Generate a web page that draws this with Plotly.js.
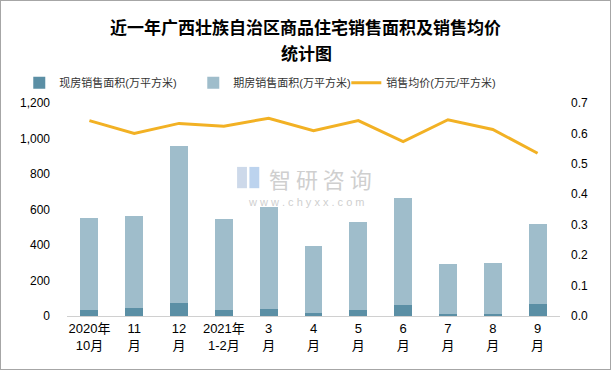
<!DOCTYPE html>
<html><head><meta charset="utf-8">
<script src="https://cdn.plot.ly/plotly-3.0.1.min.js"></script>
<style>
html,body{margin:0;padding:0;background:#fff;}
#wrap{width:611px;height:370px;box-sizing:border-box;border:1px solid #a6a6a6;}
#chart{width:609px;height:368px;}
</style></head>
<body><div id="wrap"><div id="chart"></div></div>
<script>
const categories = ["2020年<br>10月","11<br>月","12<br>月","2021年<br>1-2月","3<br>月","4<br>月","5<br>月","6<br>月","7<br>月","8<br>月","9<br>月"];
const spotArea = [34, 45, 75, 34, 39, 19, 34, 62, 11, 11, 67];
const totalArea = [551, 562, 956, 546, 613, 394, 529, 664, 292, 298, 517];
const futuresArea = totalArea.map((t, i) => t - spotArea[i]);
const avgPrice = [0.642, 0.600, 0.633, 0.624, 0.650, 0.609, 0.642, 0.573, 0.645, 0.613, 0.535];

const font = 'Arial, "Noto Sans CJK SC", sans-serif';
const traces = [
  {type:'bar', name:'现房销售面积(万平方米)', x:categories, y:spotArea, marker:{color:'#5b8fa5'}, yaxis:'y', legend:'legend'},
  {type:'bar', name:'期房销售面积(万平方米)', x:categories, y:futuresArea, marker:{color:'#9fbdcb'}, yaxis:'y', legend:'legend'},
  {type:'scatter', mode:'lines', name:'销售均价(万元/平方米)', x:categories, y:avgPrice, line:{color:'#f2b124', width:3}, yaxis:'y2', legend:'legend2'}
];
const wm = '#cfcfcf';
const titleFont = {family:'"Noto Sans CJK SC", sans-serif', size:17, color:'#000'};
const legCommon = {orientation:'h', xref:'container', yref:'container', xanchor:'left', y:0.778, yanchor:'middle', font:{size:11, color:'#333'}, itemwidth:30, traceorder:'normal', bgcolor:'rgba(0,0,0,0)'};
const layout = {
  width:609, height:368,
  margin:{l:66, r:50, t:102, b:53},
  paper_bgcolor:'#fff', plot_bgcolor:'#fff',
  barmode:'stack', bargap:0.6,
  font:{family:font, size:12, color:'#000'},
  title:{text:'<b>近一年广西壮族自治区商品住宅销售面积及销售均价</b>', x:0.5, xanchor:'center', yref:'container', y:0.927, yanchor:'middle', font:titleFont},
  showlegend:true,
  legend:Object.assign({}, legCommon, {x:0.03, entrywidth:129, entrywidthmode:'pixels'}),
  legend2:Object.assign({}, legCommon, {x:0.567}),
  xaxis:{type:'category', showline:true, linecolor:'#d0d0d0', linewidth:1, ticks:'', tickfont:{size:13}, showgrid:false, zeroline:false},
  yaxis:{range:[0,1200], dtick:200, tickformat:',d', showgrid:false, zeroline:false, showline:false, ticks:'', tickfont:{size:12}, ticklabelstandoff:16},
  yaxis2:{overlaying:'y', side:'right', range:[0,0.7], dtick:0.1, tickformat:'.1f', showgrid:false, zeroline:false, showline:false, ticks:'', tickfont:{size:12}, ticklabelstandoff:10},
  shapes:[
    {type:'rect', xref:'paper', yref:'paper', x0:0.345, x1:0.365, y0:0.6, y1:0.7, fillcolor:'#cdd9ea', line:{width:0}, layer:'below'},
    {type:'rect', xref:'paper', yref:'paper', x0:0.37, x1:0.39, y0:0.6, y1:0.7, fillcolor:'#bcd3ee', line:{width:0}, layer:'below'}
  ],
  annotations:[
    {xref:'paper', yref:'paper', x:0.4848, y:1.239, yanchor:'middle', text:'<b>统计图</b>', showarrow:false, font:titleFont},
    {xref:'paper', yref:'paper', x:0.515, y:0.65, text:'智 研 咨 询', showarrow:false, font:{size:22, color:wm, family:'"Noto Sans CJK SC", sans-serif'}},
    {xref:'paper', yref:'paper', x:0.485, y:0.535, text:'w w w . c h y x x . c o m', showarrow:false, font:{size:11, color:wm}}
  ]
};
Plotly.newPlot('chart', traces, layout, {displayModeBar:false, staticPlot:true});
</script></body></html>
